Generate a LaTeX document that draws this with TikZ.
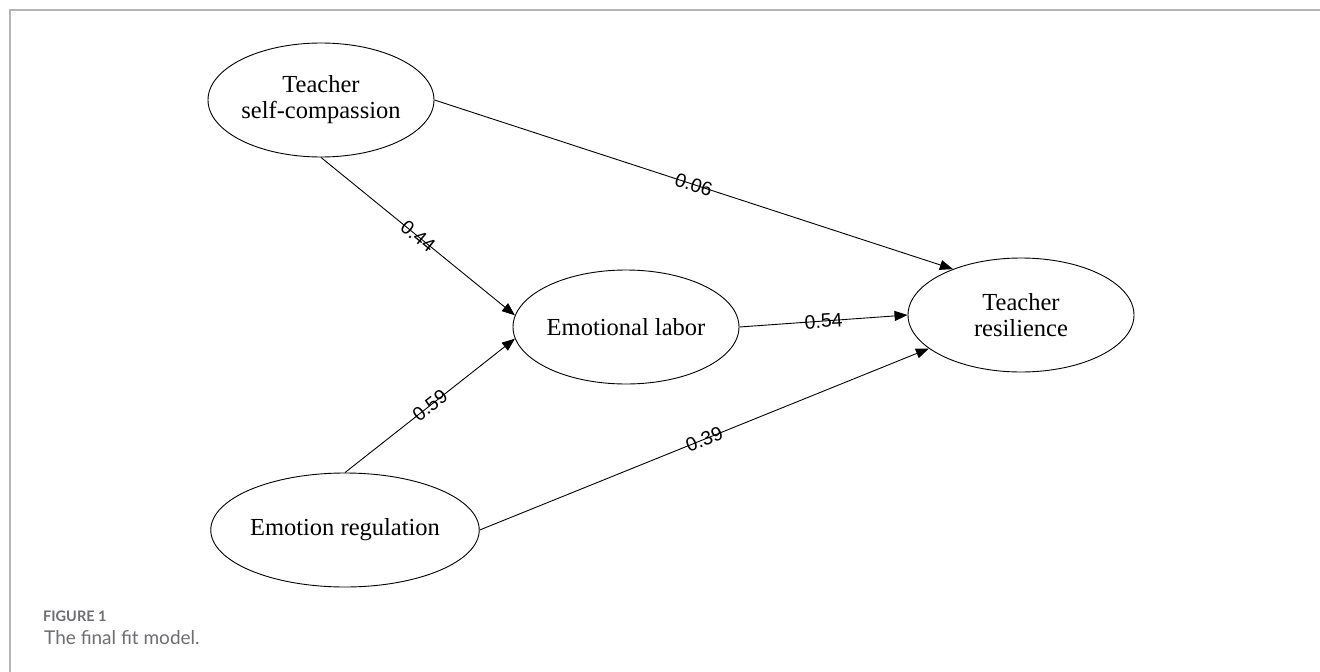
\documentclass[tikz,border=0pt]{standalone}
\usepackage{fontspec}
\setmainfont{Liberation Serif}
\newfontfamily\rotulo{Liberation Sans}
\newfontfamily\legenda{Lato}
\usepackage{tikz}
\usetikzlibrary{shapes.geometric, arrows.meta}
\usepackage{xcolor}
\definecolor{moldura}{HTML}{B5B5B5}
\definecolor{cinzalegenda}{HTML}{6D6E71}

\begin{document}
\begin{tikzpicture}[x=1pt, y=-1pt,
    latente/.style={draw, ellipse, line width=0.9pt, minimum width=226pt,
        minimum height=114pt, inner sep=0pt, align=center,
        font=\fontsize{24.5}{26}\selectfont},
    caminho/.style={-{Triangle[length=13pt,width=10pt]}, line width=0.9pt},
    coef/.style={midway, sloped, font=\rotulo\fontsize{19.5}{20}\selectfont}]
        \useasboundingbox (0,0) rectangle (1320,672);

        % Moldura da figura
        \draw[moldura, line width=1.5pt] (1320,10) -- (10,10) -- (10,672);

        % Variaveis latentes
        \node[latente] (tsc) at (321,100) {Teacher\\self-compassion};
        \node[latente] (el) at (626,327) {Emotional labor};
        \node[latente] (tr) at (1021,315) {Teacher\\resilience};
        \node[latente] (er) at (345,530) {Emotion regulation};

        % Caminhos com coeficientes
        \draw[caminho] (tsc.east) -- (tr.146) node[coef] {0.06};
        \draw[caminho] (tsc.south) -- (el.174) node[coef] {0.44};
        \draw[caminho] (er.north) -- (el.186) node[coef] {0.59};
        \draw[caminho] (el.east) -- (tr.west) node[coef] {0.54};
        \draw[caminho] (er.east) -- (tr.200) node[coef] {0.39};

        % Legenda
        \node[anchor=base west, inner sep=0pt, text=cinzalegenda,
            font=\legenda\bfseries\fontsize{14.5}{16}\selectfont] (fig) at (43,621) {FIGURE 1};
        \node[anchor=base west, inner sep=0pt, text=cinzalegenda,
            font=\legenda\fontsize{19}{22}\selectfont] (cap) at (44,644) {The final fit model.};
    \end{tikzpicture}
\end{document}
